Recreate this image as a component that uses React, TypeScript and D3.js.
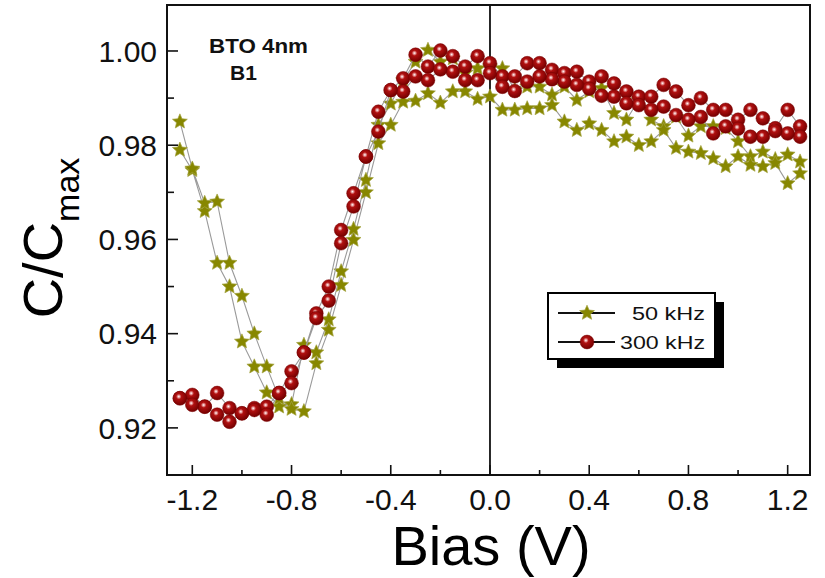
import React from "react";
import * as d3 from "d3";

// Bias grid (V)
const biasV = [
  -1.25, -1.2, -1.15, -1.1, -1.05, -1.0, -0.95, -0.9, -0.85, -0.8, -0.75, -0.7, -0.65,
  -0.6, -0.55, -0.5, -0.45, -0.4, -0.35, -0.3, -0.25, -0.2, -0.15, -0.1, -0.05, 0.0,
  0.05, 0.1, 0.15, 0.2, 0.25, 0.3, 0.35, 0.4, 0.45, 0.5, 0.55, 0.6, 0.65, 0.7, 0.75,
  0.8, 0.85, 0.9, 0.95, 1.0, 1.05, 1.1, 1.15, 1.2, 1.25,
];

// 50 kHz, sweep branch A (forward)
const f50kA = [
  0.979, 0.9747, 0.966, 0.955, 0.95, 0.9383, 0.933, 0.9275, 0.9245, 0.925, 0.9376, 0.936, 0.943,
  0.9532, 0.9622, 0.9726, 0.9843, 0.9888, 0.9938, 0.9977, 1.0002, 0.9977, 0.9984, 0.9953, 0.9963, 0.9967,
  0.9963, 0.9917, 0.9924, 0.9924, 0.9907, 0.9924, 0.9896, 0.9914, 0.9921, 0.9868, 0.9854, 0.9896, 0.9854, 0.984, 0.986,
  0.982, 0.984, 0.984, 0.9836, 0.9808, 0.9776, 0.9786, 0.977, 0.978, 0.9765,
];
// 50 kHz, sweep branch B (reverse)
const f50kB = [
  0.985, 0.975, 0.9677, 0.968, 0.955, 0.948, 0.94, 0.933, 0.9263, 0.924, 0.9235, 0.9337, 0.9408,
  0.9503, 0.9599, 0.97, 0.9804, 0.9843, 0.9892, 0.9894, 0.991, 0.989, 0.9914, 0.9914, 0.9898, 0.9903,
  0.9875, 0.9875, 0.9878, 0.9878, 0.9885, 0.985, 0.9832, 0.9846, 0.9832, 0.9808, 0.9818, 0.98, 0.9808, 0.9832, 0.9794,
  0.9786, 0.9783, 0.9772, 0.9755, 0.9776, 0.9758, 0.9755, 0.9762, 0.9719, 0.974,
];
// 300 kHz, sweep branch A
const f300kA = [
  0.9263, 0.927, 0.9245, 0.9274, 0.9242, 0.9231, 0.9242, 0.9245, 0.9274, 0.932, 0.936, 0.9443, 0.95,
  0.962, 0.9698, 0.9776, 0.9871, 0.9917, 0.9942, 0.9992, 0.9967, 1.0001, 0.9989, 0.9967, 0.9989, 0.9974,
  0.9946, 0.9946, 0.9974, 0.9974, 0.996, 0.9953, 0.9956, 0.9935, 0.9946, 0.9931, 0.9914, 0.9903, 0.9903, 0.9928, 0.9914,
  0.9885, 0.99, 0.9875, 0.9875, 0.9854, 0.9875, 0.9857, 0.9836, 0.9875, 0.984,
];
// 300 kHz, sweep branch B
const f300kB = [
  0.9263, 0.9249, 0.9245, 0.9228, 0.9213, 0.9231, 0.9238, 0.9228, 0.9274, 0.9295, 0.936, 0.9433, 0.947,
  0.9592, 0.967, 0.9776, 0.9829, 0.9917, 0.9914, 0.9946, 0.9938, 0.9961, 0.9956, 0.9938, 0.9938, 0.9953,
  0.9924, 0.9915, 0.9935, 0.9946, 0.994, 0.9935, 0.9928, 0.992, 0.9905, 0.9903, 0.9889, 0.9885, 0.9875, 0.9882, 0.9864,
  0.9854, 0.986, 0.9825, 0.984, 0.9835, 0.9818, 0.9818, 0.983, 0.9825, 0.9818,
];

const xMajorTicks = [-1.2, -0.8, -0.4, 0.0, 0.4, 0.8, 1.2];
const xMinorTicks = [-1.0, -0.6, -0.2, 0.2, 0.6, 1.0];
const yMajorTicks = [0.92, 0.94, 0.96, 0.98, 1.0];
const yMinorTicks = [0.93, 0.95, 0.97, 0.99];

const seriesNames = ["50 kHz", "300 kHz"];

const FONT = "'Liberation Sans', Arial, sans-serif";

// five-pointed star path with a fat inner radius (Origin style)
const makeStar = (R: number, r: number) => {
  const pts: [number, number][] = [];
  for (let i = 0; i < 10; i++) {
    const a = -Math.PI / 2 + (i * Math.PI) / 5;
    const rad = i % 2 === 0 ? R : r;
    pts.push([rad * Math.cos(a), rad * Math.sin(a)]);
  }
  return (d3.line()(pts) as string) + "Z";
};

export default function App() {
  const left = 167, right = 810, top = 5, bottom = 475;
  const x = d3.scaleLinear().domain([-1.302, 1.29]).range([left, right]);
  const y = d3.scaleLinear().domain([0.91, 1.00976]).range([bottom, top]);

  const loop = (a: number[], b: number[]) => {
    const fwd = biasV.map((v, i) => [v, a[i]] as [number, number]);
    const rev = biasV.map((v, i) => [v, b[i]] as [number, number]).reverse();
    return fwd.concat(rev);
  };
  const line = d3.line<[number, number]>().x(d => x(d[0])).y(d => y(d[1]));
  const starPath = makeStar(7.8, 3.6);

  const starPts = loop(f50kA, f50kB);
  const circPts = loop(f300kA, f300kB);

  const Star = ({ cx, cy }: { cx: number; cy: number }) => (
    <path d={starPath} transform={`translate(${cx},${cy})`} fill="#878700" stroke="#a4a440" strokeWidth={0.7} strokeLinejoin="round" />
  );
  const Ball = ({ cx, cy }: { cx: number; cy: number }) => (
    <circle cx={cx} cy={cy} r={6.9} fill="url(#sph)" stroke="#7a0000" strokeWidth={0.5} />
  );

  return (
    <svg width={825} height={578} style={{ position: "absolute", left: 0, top: 0, background: "#fff" }}>
      <defs>
        <radialGradient id="sph" cx="42%" cy="38%" r="62%">
          <stop offset="0%" stopColor="#ffffff" />
          <stop offset="13%" stopColor="#e8a0a0" />
          <stop offset="32%" stopColor="#b01010" />
          <stop offset="100%" stopColor="#740000" />
        </radialGradient>
        <clipPath id="plotclip">
          <rect x={left} y={top} width={right - left} height={bottom - top} />
        </clipPath>
      </defs>

      {/* zero line */}
      <line x1={x(0)} x2={x(0)} y1={top} y2={bottom} stroke="#111" strokeWidth={1.8} />

      <g clipPath="url(#plotclip)">
        <path d={line(starPts) as string} fill="none" stroke="#9a9a9a" strokeWidth={1.1} />
        {starPts.map((d, i) => <Star key={"s" + i} cx={x(d[0])} cy={y(d[1])} />)}
        <path d={line(circPts) as string} fill="none" stroke="#9a9a9a" strokeWidth={1.1} />
        {circPts.map((d, i) => <Ball key={"c" + i} cx={x(d[0])} cy={y(d[1])} />)}
      </g>

      {/* frame */}
      <rect x={left} y={top} width={right - left} height={bottom - top} fill="none" stroke="#111" strokeWidth={2} />

      {/* x ticks */}
      {xMajorTicks.map(t => (
        <g key={"xM" + t}>
          <line x1={x(t)} x2={x(t)} y1={bottom} y2={bottom - 10} stroke="#111" strokeWidth={1.6} />
          <text x={x(t)} y={510} textAnchor="middle" fontFamily={FONT} fontSize={30} fill="#111">
            {t.toFixed(1)}
          </text>
        </g>
      ))}
      {xMinorTicks.map(t => (
        <line key={"xm" + t} x1={x(t)} x2={x(t)} y1={bottom} y2={bottom - 5} stroke="#111" strokeWidth={1.6} />
      ))}

      {/* y ticks */}
      {yMajorTicks.map(t => (
        <g key={"yM" + t}>
          <line x1={left} x2={left + 11} y1={y(t)} y2={y(t)} stroke="#111" strokeWidth={1.6} />
          <text x={157} y={y(t)} dy="0.36em" textAnchor="end" fontFamily={FONT} fontSize={30} fill="#111">
            {t.toFixed(2)}
          </text>
        </g>
      ))}
      {yMinorTicks.map(t => (
        <line key={"ym" + t} x1={left} x2={left + 7} y1={y(t)} y2={y(t)} stroke="#111" strokeWidth={1.6} />
      ))}

      {/* axis titles */}
      <text x={491} y={565} textAnchor="middle" fontFamily={FONT} fontSize={56} fill="#000">
        Bias (V)
      </text>
      <text transform="translate(62,238) rotate(-90)" textAnchor="middle" fontFamily={FONT} fontSize={56} fill="#000">
        C/C<tspan fontSize={34} dy={17}>max</tspan>
      </text>

      {/* annotation */}
      <text x={209} y={53} fontFamily={FONT} fontSize={21} fontWeight="bold" fill="#111" textLength={99} lengthAdjust="spacingAndGlyphs">BTO 4nm</text>
      <text x={230} y={80} fontFamily={FONT} fontSize={21} fontWeight="bold" fill="#111">B1</text>

      {/* legend */}
      <rect x={557} y={302} width={167} height={66} fill="#000" />
      <rect x={548} y={293} width={167} height={66} fill="#fff" stroke="#000" strokeWidth={2} />
      <line x1={558} x2={615} y1={313} y2={313} stroke="#111" strokeWidth={2} />
      <Star cx={587} cy={313} />
      <text x={705} y={319.5} textAnchor="end" fontFamily={FONT} fontSize={18} fill="#111" textLength={73} lengthAdjust="spacingAndGlyphs">
        {seriesNames[0]}
      </text>
      <line x1={558} x2={615} y1={342} y2={342} stroke="#111" strokeWidth={2} />
      <Ball cx={587} cy={342} />
      <text x={705} y={348.5} textAnchor="end" fontFamily={FONT} fontSize={18} fill="#111" textLength={85} lengthAdjust="spacingAndGlyphs">
        {seriesNames[1]}
      </text>
    </svg>
  );
}
